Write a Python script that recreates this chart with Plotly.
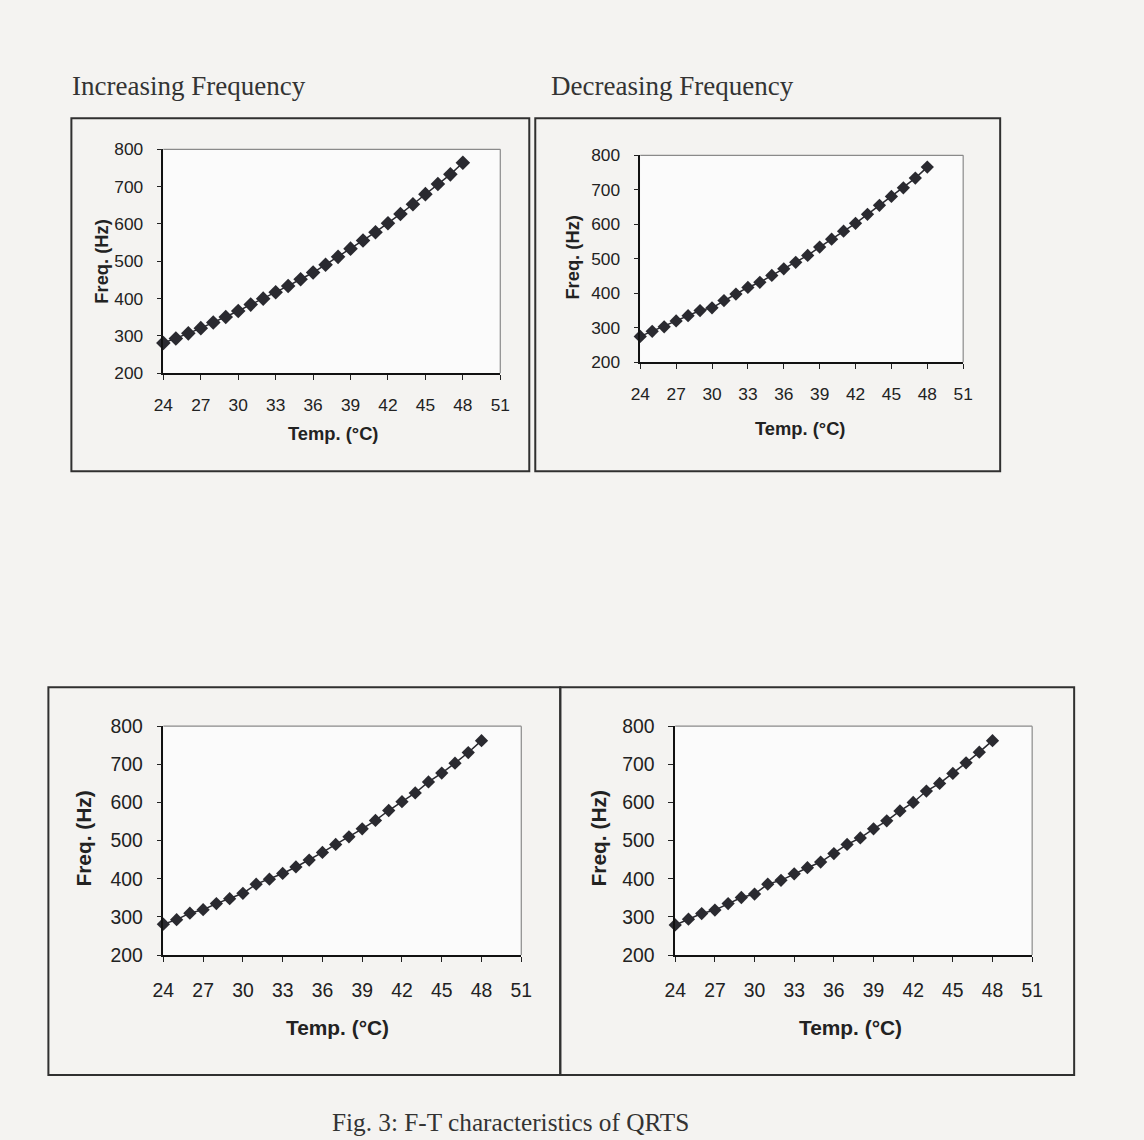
import plotly.graph_objects as go

W, H = 1144, 1140

temp = list(range(24, 49))

freq_inc_top = [281, 293, 307, 321, 336, 351, 367, 384, 400, 417, 434, 452, 470, 491, 512, 534, 556, 578, 602, 627, 653, 680, 707, 733, 764]
freq_dec_top = [275, 290, 303, 320, 335, 350, 358, 379, 398, 417, 432, 452, 471, 490, 510, 534, 557, 580, 603, 629, 655, 681, 706, 734, 766]
freq_inc_bot = [281, 293, 310, 319, 335, 348, 362, 386, 399, 414, 431, 449, 469, 490, 510, 531, 553, 579, 602, 625, 654, 677, 703, 731, 762]
freq_dec_bot = [279, 294, 309, 318, 335, 351, 360, 386, 396, 413, 429, 444, 466, 490, 507, 531, 552, 578, 600, 630, 650, 676, 704, 732, 762]

x_ticks = [24, 27, 30, 33, 36, 39, 42, 45, 48, 51]
y_ticks = [200, 300, 400, 500, 600, 700, 800]

panel_titles = ["Increasing Frequency", "Decreasing Frequency"]
x_title = "Temp. (°C)"
y_title = "Freq. (Hz)"
caption = "Fig. 3: F-T characteristics of QRTS"

# the captured page comes out slightly scaled; compensate so targets land where intended
K, OFF = 0.981, 10.6

def fs(v):
    return v / K

def px(x):
    return ((x - OFF) / K) / W

def py(y):
    return 1 - ((y - OFF) / K) / H

# plot-area pixel boxes: (left, right, top, bottom), tick font, title font, marker size
panels = [
    dict(box=(163, 500, 149, 373), data=freq_inc_top, tf=17, af=18, ms=11, xs=10, xt=(333, 433), yt=(101, 261)),
    dict(box=(640, 963, 155, 362), data=freq_dec_top, tf=17, af=18, ms=10, xs=10, xt=(800, 428), yt=(572, 257)),
    dict(box=(163, 521, 726, 955), data=freq_inc_bot, tf=19, af=20.5, ms=10, xs=12, xt=(337, 1027), yt=(83, 838)),
    dict(box=(675, 1032, 726, 955), data=freq_dec_bot, tf=19, af=20.5, ms=10, xs=12, xt=(850, 1027), yt=(598, 838)),
]

fig = go.Figure()
layout = dict(
    width=W, height=H,
    margin=dict(l=0, r=0, t=0, b=0),
    paper_bgcolor="#f4f3f1",
    plot_bgcolor="#fbfbfb",
    showlegend=False,
    shapes=[],
    annotations=[],
)

ink = "#2a2a30"
sans = "Liberation Sans, Arial"
for i, p in enumerate(panels):
    n = "" if i == 0 else str(i + 1)
    l, r, t, b = p["box"]
    fig.add_trace(go.Scatter(
        x=temp, y=p["data"], mode="lines+markers",
        line=dict(color=ink, width=1.5),
        marker=dict(symbol="diamond", size=fs(p["ms"]), color=ink),
        xaxis="x" + n, yaxis="y" + n, cliponaxis=False,
    ))
    common = dict(showgrid=False, zeroline=False, showline=True, linecolor="#111111", linewidth=1.5,
                  ticks="outside", ticklen=5, tickwidth=1.2, tickcolor="#222222",
                  tickfont=dict(family=sans, size=fs(p["tf"]), color="#222222"))
    layout["xaxis" + n] = dict(common, domain=[px(l), px(r)], anchor="y" + n, range=[24, 51],
                               tickvals=x_ticks, ticklabelstandoff=p["xs"])
    layout["yaxis" + n] = dict(common, domain=[py(b), py(t)], anchor="x" + n, range=[200, 800],
                               tickvals=y_ticks, ticklabelstandoff=10)
    # grey top/right frame of plot area
    layout["shapes"].append(dict(type="line", xref="x" + n + " domain", yref="y" + n + " domain",
                                 x0=0, x1=1, y0=1, y1=1, line=dict(color="#8a8a8a", width=1.2)))
    layout["shapes"].append(dict(type="line", xref="x" + n + " domain", yref="y" + n + " domain",
                                 x0=1, x1=1, y0=0, y1=1, line=dict(color="#8a8a8a", width=1.2)))
    layout["annotations"].append(dict(text="<b>" + x_title + "</b>", x=px(p["xt"][0]), y=py(p["xt"][1]),
                                      xref="paper", yref="paper", showarrow=False,
                                      xanchor="center", yanchor="middle",
                                      font=dict(family=sans, size=fs(p["af"]), color="#222222")))
    layout["annotations"].append(dict(text="<b>" + y_title + "</b>", x=px(p["yt"][0]), y=py(p["yt"][1]),
                                      xref="paper", yref="paper", showarrow=False, textangle=-90,
                                      xanchor="center", yanchor="middle",
                                      font=dict(family=sans, size=fs(p["af"]), color="#222222")))

# outer boxes
box_line = dict(color="#303030", width=2)
for (x0, x1, y0, y1) in [(71, 529, 118, 471), (535, 1000, 118, 471), (48, 560, 687, 1075), (560, 1074, 687, 1075)]:
    layout["shapes"].append(dict(type="rect", xref="paper", yref="paper", x0=px(x0), x1=px(x1),
                                 y0=py(y1), y1=py(y0), line=box_line, layer="below"))

serif = "Liberation Serif, Times New Roman"
layout["annotations"].append(dict(text=panel_titles[0], x=px(70), y=py(86), xref="paper", yref="paper",
                                  xanchor="left", yanchor="middle", showarrow=False,
                                  font=dict(family=serif, size=fs(26.5), color="#333333")))
layout["annotations"].append(dict(text=panel_titles[1], x=px(549), y=py(86), xref="paper", yref="paper",
                                  xanchor="left", yanchor="middle", showarrow=False,
                                  font=dict(family=serif, size=fs(26.5), color="#333333")))
layout["annotations"].append(dict(text=caption, x=px(330), y=py(1122), xref="paper", yref="paper",
                                  xanchor="left", yanchor="middle", showarrow=False,
                                  font=dict(family=serif, size=fs(24.8), color="#333333")))

fig.update_layout(**layout)
fig.write_html("out.html")
